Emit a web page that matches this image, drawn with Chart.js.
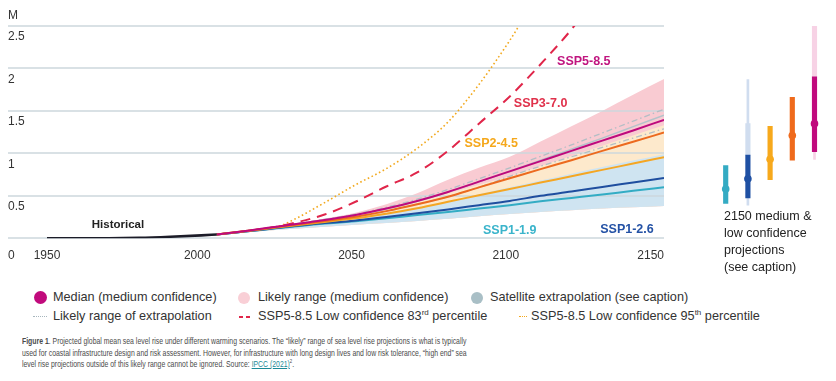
<!DOCTYPE html>
<html>
<head>
<meta charset="utf-8">
<script src="https://cdn.jsdelivr.net/npm/chart.js@4.4.1/dist/chart.umd.min.js"></script>
<style>
html,body{margin:0;padding:0;background:#fff;}
body{width:836px;height:381px;position:relative;overflow:hidden;font-family:"Liberation Sans",Arial,Helvetica,sans-serif;color:#333;}
#main{position:absolute;left:0;top:0;}
#side{position:absolute;left:700px;top:0;}
.lg{position:absolute;font-size:12.7px;line-height:16px;white-space:nowrap;color:#333;}
.lg sup{font-size:8px;line-height:0;vertical-align:5px;}
.dot{position:absolute;border-radius:50%;}
.sideText{position:absolute;left:724px;top:208px;font-size:12.5px;line-height:17px;color:#222;white-space:nowrap;}
#caption{position:absolute;left:22px;top:335px;font-family:"Liberation Sans Narrow","Liberation Sans",Arial,sans-serif;font-size:9.8px;line-height:11.7px;color:#4a4a4a;transform-origin:0 0;}
#caption div{white-space:nowrap;}
#caption span.ln{display:inline-block;}
#caption a{color:#1b8a96;text-decoration:underline;}
#caption sup{font-size:6px;line-height:0;vertical-align:4px;}
</style>
</head>
<body>
<canvas id="main" width="700" height="280"></canvas>
<canvas id="side" width="136" height="280"></canvas>

<div class="sideText">2150 medium &amp;<br>low confidence<br>projections<br>(see caption)</div>

<!-- legend -->
<div class="dot" style="left:33.5px;top:290.5px;width:13px;height:13px;background:#c10a7c;"></div>
<div class="lg" style="left:53px;top:289px;">Median (medium confidence)</div>
<div class="dot" style="left:238px;top:291.5px;width:12px;height:12px;background:#f9cfd6;"></div>
<div class="lg" style="left:258px;top:289px;">Likely range (medium confidence)</div>
<div class="dot" style="left:470.5px;top:291.5px;width:12px;height:12px;background:#a9bfc6;"></div>
<div class="lg" style="left:490px;top:289px;">Satellite extrapolation (see caption)</div>

<div style="position:absolute;left:33px;top:316px;width:14px;border-top:1.5px dotted #a7b6bd;"></div>
<div class="lg" style="left:53px;top:308px;">Likely range of extrapolation</div>
<div style="position:absolute;left:239px;top:316px;width:4px;border-top:2px solid #e0264a;"></div>
<div style="position:absolute;left:246px;top:316px;width:4px;border-top:2px solid #e0264a;"></div>
<div class="lg" style="left:258px;top:308px;">SSP5-8.5 Low confidence 83<sup>rd</sup> percentile</div>
<div style="position:absolute;left:519px;top:316px;width:8px;border-top:1.5px dotted #f5a81c;"></div>
<div class="lg" style="left:531px;top:308px;">SSP5-8.5 Low confidence 95<sup>th</sup> percentile</div>

<div id="caption">
<div><span class="ln"><b>Figure 1</b>. Projected global mean sea level rise under different warming scenarios. The “likely” range of sea level rise projections is what is typically</span></div>
<div><span class="ln" id="capRef">used for coastal infrastructure design and risk assessment. However, for infrastructure with long design lives and low risk tolerance, “high end” sea</span></div>
<div><span class="ln">level rise projections outside of this likely range cannot be ignored. Source: <a>IPCC (2021)</a><sup>2</sup>.</span></div>
</div>

<script>
// ---------------- data ----------------
const HIST_YEARS  = [1950, 1960, 1970, 1980, 1990, 2000, 2005];
const HIST_VALUES = [0, 0, 0, 0.005, 0.018, 0.035, 0.045];

const PROJ_YEARS = [2005, 2015, 2025, 2035, 2050, 2060, 2070, 2080, 2090, 2100, 2110, 2120, 2130, 2140, 2150];
const SSP119 = [0.045, 0.082, 0.12, 0.157, 0.20, 0.235, 0.275, 0.31, 0.35, 0.39, 0.435, 0.475, 0.515, 0.56, 0.60];
const SSP126 = [0.045, 0.083, 0.124, 0.163, 0.21, 0.25, 0.295, 0.34, 0.39, 0.44, 0.50, 0.55, 0.605, 0.657, 0.71];
const SSP245 = [0.045, 0.086, 0.13, 0.172, 0.235, 0.29, 0.355, 0.43, 0.507, 0.58, 0.656, 0.73, 0.806, 0.88, 0.955];
const SSP370 = [0.045, 0.088, 0.135, 0.18, 0.255, 0.32, 0.40, 0.49, 0.60, 0.707, 0.815, 0.92, 1.03, 1.137, 1.245];
const SSP585 = [0.045, 0.09, 0.14, 0.19, 0.275, 0.35, 0.44, 0.546, 0.667, 0.788, 0.909, 1.03, 1.15, 1.27, 1.395];

const BAND_LOW   = [0.045, 0.07, 0.10, 0.125, 0.16, 0.18, 0.205, 0.23, 0.26, 0.285, 0.31, 0.33, 0.35, 0.365, 0.38];
const BLUE_HIGH  = [0.045, 0.088, 0.135, 0.18, 0.25, 0.30, 0.365, 0.44, 0.52, 0.60, 0.68, 0.76, 0.84, 0.915, 0.99];
const PEACH_HIGH = [0.045, 0.09, 0.14, 0.19, 0.275, 0.35, 0.44, 0.53, 0.63, 0.73, 0.85, 0.97, 1.09, 1.21, 1.33];
const PINK_HIGH  = [0.045, 0.092, 0.145, 0.20, 0.30, 0.40, 0.53, 0.69, 0.83, 0.96, 1.14, 1.32, 1.50, 1.69, 1.875];

const EXT_MID = [0.045, 0.09, 0.14, 0.19, 0.275, 0.345, 0.435, 0.545, 0.665, 0.79, 0.92, 1.05, 1.18, 1.315, 1.45];
const EXT_HI  = [0.045, 0.09, 0.14, 0.195, 0.285, 0.365, 0.46, 0.575, 0.70, 0.83, 0.965, 1.10, 1.24, 1.38, 1.52];
const EXT_LO  = [0.045, 0.085, 0.135, 0.18, 0.255, 0.32, 0.40, 0.49, 0.60, 0.73, 0.85, 0.96, 1.07, 1.18, 1.29];

const P83_YEARS  = [2005, 2015, 2025, 2030, 2040, 2050, 2060, 2070, 2080, 2090, 2100, 2110, 2120, 2125];
const P83_VALUES = [0.045, 0.085, 0.14, 0.18, 0.28, 0.43, 0.61, 0.775, 1.03, 1.35, 1.67, 2.05, 2.46, 2.7];
const P95_YEARS  = [2005, 2015, 2025, 2030, 2040, 2050, 2060, 2070, 2080, 2090, 2100, 2105];
const P95_VALUES = [0.045, 0.085, 0.14, 0.22, 0.42, 0.63, 0.82, 1.06, 1.37, 1.81, 2.33, 2.62];

const X_TICKS = [1950, 2000, 2050, 2100, 2150];
const Y_TICKS = [0, 0.5, 1, 1.5, 2, 2.5];

const SIDE_CATS       = ['SSP1-1.9', 'SSP1-2.6', 'SSP2-4.5', 'SSP3-7.0', 'SSP5-8.5'];
const SIDE_MEDIAN     = [0.58, 0.70, 0.93, 1.21, 1.35];
const SIDE_LIKELY_LO  = [0.41, 0.475, 0.69, 0.92, 1.02];
const SIDE_LIKELY_HI  = [0.855, 0.98, 1.32, 1.66, 1.90];
const SIDE_LOWC_LO    = [null, 0.98, null, null, 1.90];
const SIDE_LOWC_HI    = [null, 1.35, null, null, 4.8];
const SIDE_TAIL_LO    = [null, 0.39, null, null, 0.93];
const SIDE_TAIL_HI    = [null, 1.87, null, null, 4.8];

// ---------------- styles ----------------
const C = {
  s119: '#33acc4', s126: '#1f4e9f', s245: '#f5a623', s370: '#ec6a1f', s585: '#be0a7d',
  hist: '#1c1c28', p83: '#e0264a', p95: '#f2a91e', grey: '#b4c3ca',
  pink: '#f9cbd2', peach: '#fde9cc', blue: '#cfe4f1', grid: '#cdd7dc'
};
const SCEN_LABELS = [
  {text: 'SSP5-8.5', x: 2124, y: 2.08, color: '#c0157f'},
  {text: 'SSP3-7.0', x: 2110, y: 1.59, color: '#e0314b'},
  {text: 'SSP2-4.5', x: 2094, y: 1.11, color: '#f5a81c'},
  {text: 'SSP1-1.9', x: 2100, y: 0.09, color: '#3ab4cb'},
  {text: 'SSP1-2.6', x: 2138, y: 0.10, color: '#2452a5'},
  {text: 'Historical', x: 1973, y: 0.16, color: '#222222', small: true}
];
const BAND_ORDER_MIN = 100;

const pts = (xs, ys) => xs.map((x, i) => ({x: x, y: ys[i]}));
const mkLine = (label, xs, ys, color, width, order, extra) => Object.assign({
  type: 'line', label: label, data: pts(xs, ys), borderColor: color, borderWidth: width,
  pointRadius: 0, fill: false, cubicInterpolationMode: 'monotone', order: order
}, extra || {});
const mkBand = (label, xs, lo, hi, color, order) => [
  {type: 'line', label: label + ' low', data: pts(xs, lo), borderColor: 'rgba(0,0,0,0)', borderWidth: 1,
   pointRadius: 0, fill: false, cubicInterpolationMode: 'monotone', order: order},
  {type: 'line', label: label + ' high', data: pts(xs, hi), borderColor: 'rgba(0,0,0,0)', borderWidth: 1,
   pointRadius: 0, fill: '-1', backgroundColor: color, cubicInterpolationMode: 'monotone', order: order}
];

const datasets = [].concat(
  mkBand('pink', PROJ_YEARS, BAND_LOW, PINK_HIGH, C.pink, 103),
  mkBand('peach', PROJ_YEARS, BAND_LOW, PEACH_HIGH, C.peach, 102),
  mkBand('blue', PROJ_YEARS, BAND_LOW, BLUE_HIGH, C.blue, 101),
  [
    mkLine('ext hi', PROJ_YEARS, EXT_HI, '#b3bec5', 1.3, 52, {borderDash: [6, 3, 1.5, 3]}),
    mkLine('ext lo', PROJ_YEARS, EXT_LO, '#b3bec5', 1.3, 51, {borderDash: [6, 3, 1.5, 3]}),
    mkLine('ext mid', PROJ_YEARS, EXT_MID, C.grey, 1.4, 50),
    mkLine('p95', P95_YEARS, P95_VALUES, C.p95, 1.6, 41, {borderDash: [1.6, 2.6]}),
    mkLine('p83', P83_YEARS, P83_VALUES, C.p83, 2, 40, {borderDash: [10, 7]}),
    mkLine('SSP1-1.9', PROJ_YEARS, SSP119, C.s119, 2, 24),
    mkLine('SSP1-2.6', PROJ_YEARS, SSP126, C.s126, 2, 23),
    mkLine('SSP2-4.5', PROJ_YEARS, SSP245, C.s245, 2, 22),
    mkLine('SSP3-7.0', PROJ_YEARS, SSP370, C.s370, 2, 21),
    mkLine('SSP5-8.5', PROJ_YEARS, SSP585, C.s585, 2, 20),
    mkLine('Historical', HIST_YEARS, HIST_VALUES, C.hist, 2.6, 5)
  ]
);

const FONT = '"Liberation Sans", Arial, Helvetica, sans-serif';
// horizontal grid: drawn after the shaded bands, before the lines
let gridDrawn = false;
const drawGrid = chart => {
  const ctx = chart.ctx, ys = chart.scales.y, a = chart.chartArea;
  ctx.save();
  ctx.strokeStyle = C.grid;
  ctx.lineWidth = 1.3;
  ctx.setLineDash([]);
  Y_TICKS.forEach(v => {
    const py = Math.round(ys.getPixelForValue(v));
    ctx.beginPath(); ctx.moveTo(a.left, py); ctx.lineTo(a.right, py); ctx.stroke();
  });
  ctx.restore();
};
const gridPlugin = {
  id: 'hgrid',
  beforeDatasetsDraw() { gridDrawn = false; },
  beforeDatasetDraw(chart, args) {
    if (!gridDrawn && chart.data.datasets[args.index].order < BAND_ORDER_MIN) { drawGrid(chart); gridDrawn = true; }
  },
  afterDatasetsDraw(chart) { if (!gridDrawn) { drawGrid(chart); gridDrawn = true; } }
};
const textPlugin = {
  id: 'texts',
  afterDatasetsDraw(chart) {
    const ctx = chart.ctx, xs = chart.scales.x, ys = chart.scales.y, a = chart.chartArea;
    ctx.save();
    ctx.textBaseline = 'middle';
    ctx.fillStyle = '#333';
    ctx.font = '12px ' + FONT;
    ctx.textAlign = 'left';
    Y_TICKS.forEach(v => {
      const py = ys.getPixelForValue(v) + (v === 0 ? 17 : 11);
      ctx.fillText(String(v), a.left, py);
    });
    ctx.fillText('M', a.left, ys.getPixelForValue(2.5) - 10);
    const ly = ys.getPixelForValue(0) + 17;
    X_TICKS.forEach((v, i) => {
      const px = xs.getPixelForValue(v);
      if (i === X_TICKS.length - 1) { ctx.textAlign = 'right'; ctx.fillText(String(v), a.right, ly); }
      else { ctx.textAlign = 'center'; ctx.fillText(String(v), px - (i === 0 ? 0 : 4), ly); }
    });
    ctx.textAlign = 'center';
    SCEN_LABELS.forEach(l => {
      ctx.font = 'bold ' + (l.small ? '11.5px ' : '12.5px ') + FONT;
      ctx.fillStyle = l.color;
      ctx.fillText(l.text, xs.getPixelForValue(l.x), ys.getPixelForValue(l.y));
    });
    ctx.restore();
  }
};

new Chart(document.getElementById('main'), {
  type: 'line',
  data: {datasets: datasets},
  options: {
    responsive: false, animation: false, devicePixelRatio: 1, events: [],
    layout: {padding: {left: 8, right: 36, top: 26, bottom: 41.7}},
    plugins: {legend: {display: false}, tooltip: {enabled: false}},
    scales: {
      x: {type: 'linear', min: 1937.36, max: 2150,
          grid: {display: false}, border: {display: false},
          ticks: {display: false}, afterFit: s => { s.height = 0; }},
      y: {type: 'linear', min: 0, max: 2.5,
          grid: {display: false}, border: {display: false},
          ticks: {display: false, stepSize: 0.5}, afterFit: s => { s.width = 0; }}
    }
  },
  plugins: [gridPlugin, textPlugin]
});

// ---------------- side panel ----------------
const SIDE_COLORS = ['#34abc3', '#1f50a3', '#f7a91c', '#ef6a1c', '#c00a7d'];
const SIDE_LIGHT  = [null, '#d0ddef', null, null, '#f7d2e5'];
const range = (lo, hi) => SIDE_CATS.map((c, i) => lo[i] == null ? null : [lo[i], hi[i]]);

new Chart(document.getElementById('side'), {
  type: 'bar',
  data: {
    labels: SIDE_CATS,
    datasets: [
      {type: 'bar', data: range(SIDE_TAIL_LO, SIDE_TAIL_HI), backgroundColor: SIDE_LIGHT, barThickness: 2,
       grouped: false, borderSkipped: false, borderWidth: 0, order: 4},
      {type: 'bar', data: range(SIDE_LOWC_LO, SIDE_LOWC_HI), backgroundColor: SIDE_LIGHT, barThickness: 4.5,
       grouped: false, borderSkipped: false, borderWidth: 0, order: 3},
      {type: 'bar', data: range(SIDE_LIKELY_LO, SIDE_LIKELY_HI), backgroundColor: SIDE_COLORS, barThickness: 4.5,
       grouped: false, borderSkipped: false, borderWidth: 0, order: 2},
      {type: 'line', data: SIDE_MEDIAN, showLine: false, pointRadius: 3.8, pointBorderWidth: 0,
       pointBackgroundColor: SIDE_COLORS, order: 1}
    ]
  },
  options: {
    responsive: false, animation: false, devicePixelRatio: 1, events: [],
    layout: {padding: {left: 14.6, right: 10.4, top: 26, bottom: 41.7}},
    plugins: {legend: {display: false}, tooltip: {enabled: false}},
    scales: {
      x: {display: false, offset: true},
      y: {display: false, min: 0, max: 2.5}
    }
  }
});

// fit caption width to the reference line length
(function () {
  const cap = document.getElementById('caption');
  const w = document.getElementById('capRef').getBoundingClientRect().width;
  if (w > 0) cap.style.transform = 'scaleX(' + (444.7 / w) + ')';
})();
</script>
</body>
</html>
